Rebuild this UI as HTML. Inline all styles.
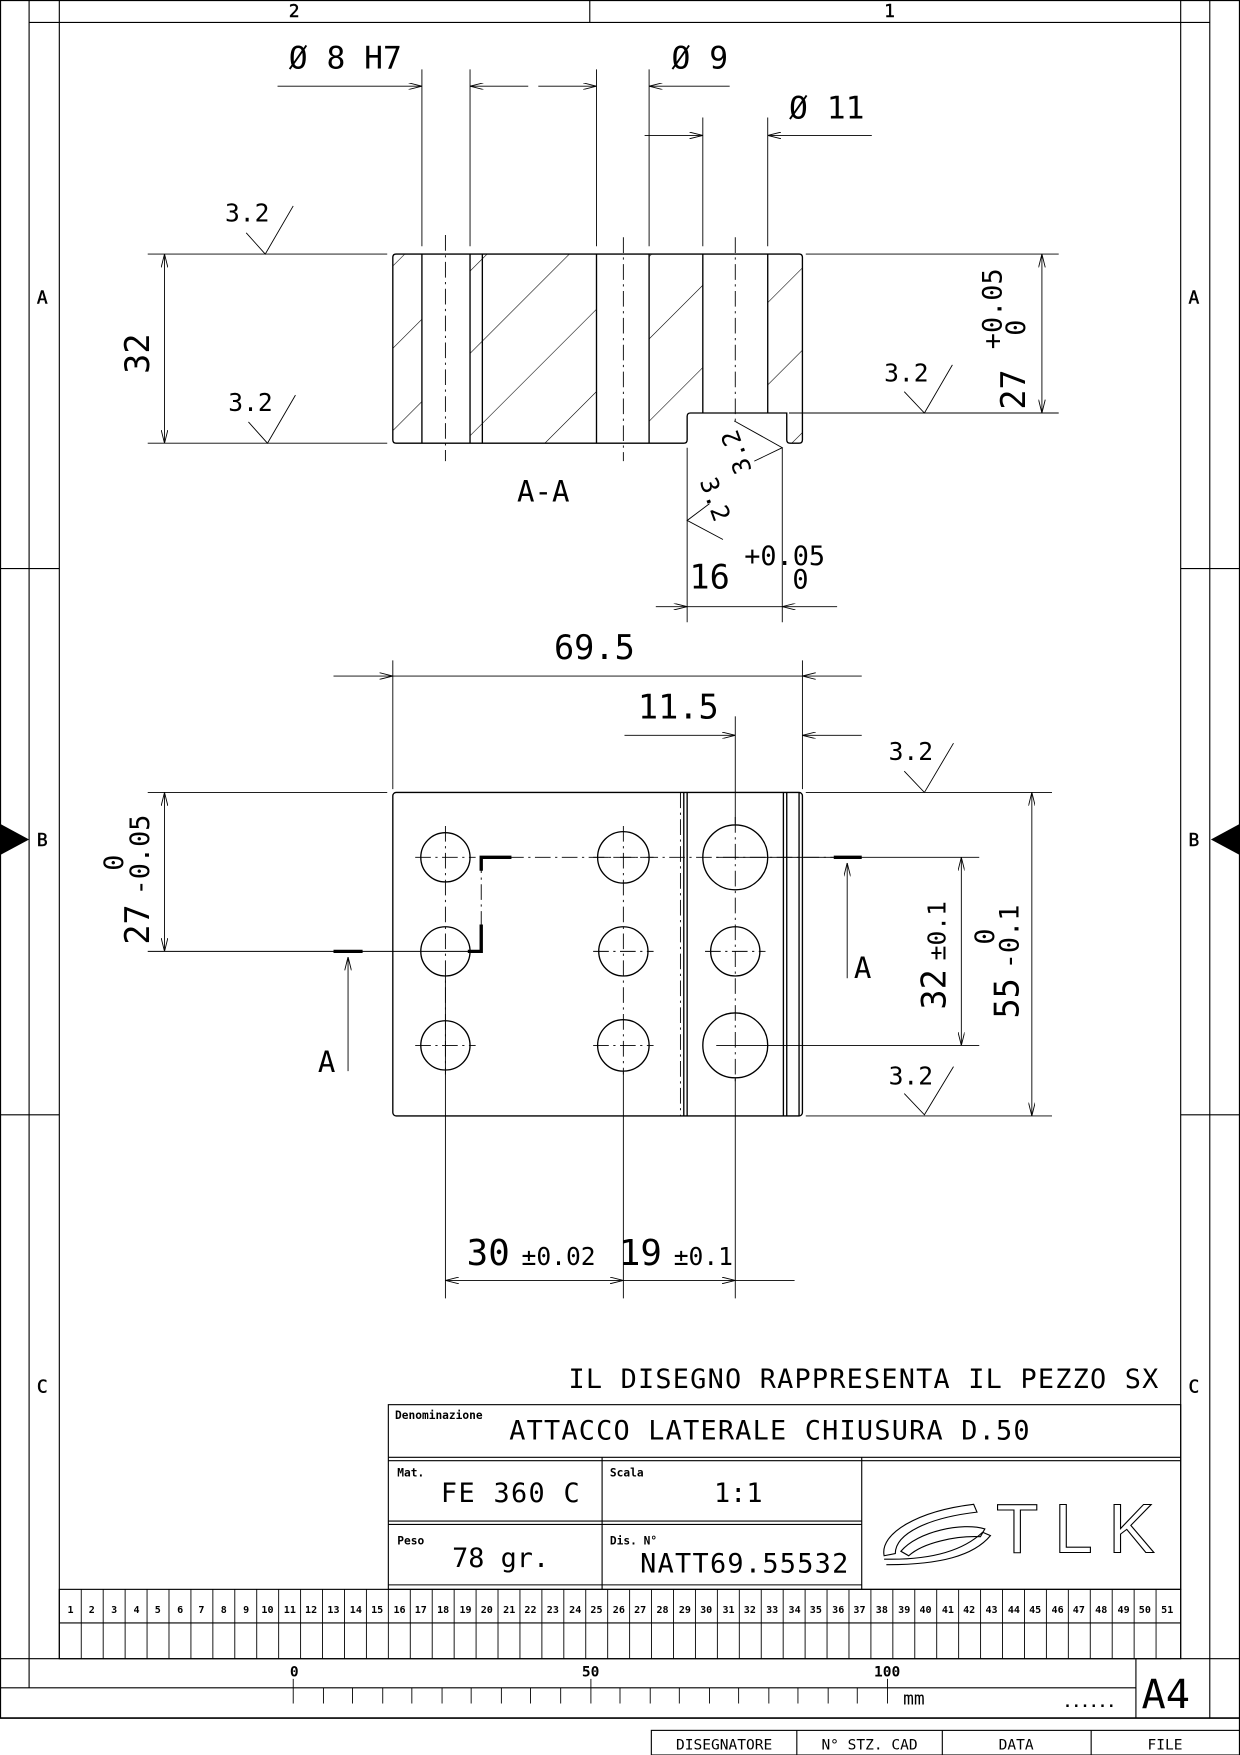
<!DOCTYPE html>
<html><head><meta charset="utf-8"><style>
html,body{margin:0;padding:0;background:#fff}
svg{display:block}
text{font-family:"DejaVu Sans Mono","Liberation Mono",monospace;fill:#000}
</style></head><body>
<svg width="1240" height="1755" viewBox="0 0 1108 1568" preserveAspectRatio="none" xmlns="http://www.w3.org/2000/svg">
<defs>
<pattern id="h" patternUnits="userSpaceOnUse" width="52" height="52" patternTransform="rotate(45)">
<line x1="0" y1="0" x2="0" y2="52" stroke="#000" stroke-width="1"/>
</pattern>
<marker id="ar" viewBox="0 0 12 6" refX="12" refY="3" markerWidth="12" markerHeight="6" orient="auto-start-reverse" markerUnits="userSpaceOnUse">
<path d="M0,0 L12,3 L0,6" fill="none" stroke="#000" stroke-width="0.8"/>
</marker>
</defs>
<g stroke="#000" stroke-width="1" fill="none">
<line x1="0.5" y1="0" x2="0.5" y2="1535"/>
<line x1="26" y1="0" x2="26" y2="1508"/>
<line x1="53" y1="0" x2="53" y2="1482"/>
<line x1="1055" y1="0" x2="1055" y2="1482"/>
<line x1="1081" y1="0" x2="1081" y2="1535"/>
<line x1="1107.5" y1="0" x2="1107.5" y2="1568"/>
<line x1="0" y1="0.5" x2="1108" y2="0.5"/>
<line x1="26" y1="20" x2="1081" y2="20"/>
<line x1="527" y1="0" x2="527" y2="20"/>
<line x1="0" y1="508" x2="53" y2="508"/><line x1="1055" y1="508" x2="1108" y2="508"/>
<line x1="0" y1="996" x2="53" y2="996"/><line x1="1055" y1="996" x2="1108" y2="996"/>
<line x1="0" y1="1482" x2="1108" y2="1482"/>
<line x1="0" y1="1508" x2="1015" y2="1508"/>
<line x1="0" y1="1535" x2="1108" y2="1535" stroke-width="1.5"/>
<line x1="1015" y1="1482" x2="1015" y2="1535"/>
<rect x="582" y="1546" width="526" height="22"/>
<line x1="712" y1="1546" x2="712" y2="1568"/><line x1="842" y1="1546" x2="842" y2="1568"/><line x1="975" y1="1546" x2="975" y2="1568"/>
</g>
<path d="M0,736 L26,750 L0,764 Z" fill="#000"/>
<path d="M1108,736 L1082,750 L1108,764 Z" fill="#000"/>
<g font-size="16" stroke="#000" stroke-width="0.4">
<text x="258" y="15">2</text><text x="790" y="15">1</text>
<text x="33" y="271">A</text><text x="1062" y="271">A</text>
<text x="33" y="756">B</text><text x="1062" y="756">B</text>
<text x="33" y="1244">C</text><text x="1062" y="1244">C</text>
</g>

<rect x="351" y="227" width="366" height="169" fill="url(#h)"/>
<g fill="#fff">
<rect x="377" y="227" width="43" height="169"/>
<rect x="533" y="227" width="47" height="169"/>
<rect x="628" y="227" width="58" height="142"/>
<rect x="614" y="369" width="86" height="30"/>
</g>
<g stroke="#000" stroke-width="1.2" fill="none">
<path d="M354,227 H714 Q717,227 717,230 V393 Q717,396 714,396 H706 Q703,396 703,393 V369 H617 Q614,369 614,372 V393 Q614,396 611,396 H354 Q351,396 351,393 V230 Q351,227 354,227 Z"/>
<line x1="377" y1="227" x2="377" y2="396"/><line x1="420" y1="227" x2="420" y2="396"/><line x1="431" y1="227" x2="431" y2="396"/>
<line x1="533" y1="227" x2="533" y2="396"/><line x1="580" y1="227" x2="580" y2="396"/>
<line x1="628" y1="227" x2="628" y2="369"/><line x1="686" y1="227" x2="686" y2="369"/>
</g>
<g stroke="#000" stroke-width="0.8" stroke-dasharray="14,4,2,4" fill="none">
<line x1="398" y1="210" x2="398" y2="412"/><line x1="557" y1="212" x2="557" y2="412"/><line x1="657" y1="212" x2="657" y2="380"/>
</g>
<g stroke="#000" stroke-width="0.8" fill="none">
<line x1="377" y1="62" x2="377" y2="220"/><line x1="420" y1="62" x2="420" y2="220"/>
<line x1="533" y1="62" x2="533" y2="220"/><line x1="580" y1="62" x2="580" y2="220"/>
<line x1="628" y1="105" x2="628" y2="220"/><line x1="686" y1="105" x2="686" y2="220"/>
<line x1="248" y1="77" x2="377" y2="77" marker-end="url(#ar)"/><line x1="472" y1="77" x2="420" y2="77" marker-end="url(#ar)"/>
<line x1="481" y1="77" x2="533" y2="77" marker-end="url(#ar)"/><line x1="652" y1="77" x2="580" y2="77" marker-end="url(#ar)"/>
<line x1="576" y1="121" x2="628" y2="121" marker-end="url(#ar)"/><line x1="779" y1="121" x2="686" y2="121" marker-end="url(#ar)"/>
<line x1="132" y1="227" x2="346" y2="227"/><line x1="132" y1="396" x2="346" y2="396"/>
<line x1="147" y1="227" x2="147" y2="396" marker-start="url(#ar)" marker-end="url(#ar)"/>
<line x1="720" y1="227" x2="946" y2="227"/><line x1="705" y1="369" x2="946" y2="369"/>
<line x1="931" y1="227" x2="931" y2="369" marker-start="url(#ar)" marker-end="url(#ar)"/>
<line x1="614" y1="400" x2="614" y2="556"/><line x1="699" y1="400" x2="699" y2="556"/>
<line x1="586" y1="542" x2="614" y2="542" marker-end="url(#ar)"/><line x1="748" y1="542" x2="699" y2="542" marker-end="url(#ar)"/>
<line x1="614" y1="542" x2="699" y2="542"/>
<path d="M220,208 L237,227 L262,184"/>
<path d="M222,377 L239,396 L264,353"/>
<path d="M808,350 L826,369 L851,326"/>
<path d="M808,689 L826,708 L852,664"/>
<path d="M808,977 L826,996 L852,953"/>
<path d="M656,376 L699,400 L674,412"/>
<path d="M634,450 L614,465 L646,482"/>
</g>
<g font-size="22">
<text x="201" y="198">3.2</text><text x="204" y="367">3.2</text><text x="790" y="341">3.2</text>
<text x="794" y="679">3.2</text><text x="794" y="969">3.2</text>
<text x="462" y="448" font-size="26">A-A</text>
<text x="616" y="526" font-size="30">16</text>
<text x="665" y="505" font-size="24">+0.05</text><text x="708" y="526" font-size="24">0</text>
<text transform="translate(672,420) rotate(-110)" font-size="22">3.2</text>
<text transform="translate(625,430) rotate(70)" font-size="22">3.2</text>
<text x="258" y="61" font-size="28">Ø 8 H7</text>
<text x="600" y="61" font-size="28">Ø 9</text>
<text x="705" y="106" font-size="28">Ø 11</text>
<text transform="translate(133,334) rotate(-90)" font-size="30">32</text>
<text transform="translate(916,366) rotate(-90)" font-size="30">27</text>
<text transform="translate(895,312) rotate(-90)" font-size="24">+0.05</text>
<text transform="translate(916,300) rotate(-90)" font-size="24">0</text>
</g>

<g stroke="#000" stroke-width="1.2" fill="none">
<rect x="351" y="708" width="366" height="289" rx="3"/>
<line x1="611" y1="708" x2="611" y2="997"/><line x1="614" y1="708" x2="614" y2="997"/>
<line x1="700" y1="708" x2="700" y2="997"/><line x1="703" y1="708" x2="703" y2="997"/>
<line x1="714" y1="708" x2="714" y2="997"/>
<circle cx="398" cy="766" r="22"/><circle cx="398" cy="850" r="22"/><circle cx="398" cy="934" r="22"/>
<circle cx="557" cy="766" r="23"/><circle cx="557" cy="850" r="22"/><circle cx="557" cy="934" r="23"/>
<circle cx="657" cy="766" r="29"/><circle cx="657" cy="850" r="22"/><circle cx="657" cy="934" r="29"/>
</g>
<g stroke="#000" stroke-width="0.8" stroke-dasharray="14,4,2,4" fill="none">
<line x1="371" y1="766" x2="425" y2="766"/><line x1="371" y1="934" x2="425" y2="934"/>
<line x1="530" y1="850" x2="584" y2="850"/><line x1="530" y1="934" x2="584" y2="934"/><line x1="530" y1="766" x2="584" y2="766"/>
<line x1="630" y1="850" x2="684" y2="850"/>
<line x1="398" y1="738" x2="398" y2="960"/><line x1="557" y1="738" x2="557" y2="960"/><line x1="657" y1="730" x2="657" y2="970"/>
<line x1="430" y1="766" x2="745" y2="766"/><line x1="430" y1="766" x2="430" y2="850"/>
<line x1="608" y1="708" x2="608" y2="997"/>
</g>
<g stroke="#000" stroke-width="0.8" fill="none">
<line x1="132" y1="850" x2="430" y2="850"/>
<line x1="640" y1="766" x2="875" y2="766"/><line x1="640" y1="934" x2="875" y2="934"/>
<line x1="311" y1="957" x2="311" y2="855" marker-end="url(#ar)"/>
<line x1="757" y1="874" x2="757" y2="771" marker-end="url(#ar)"/>
<line x1="351" y1="590" x2="351" y2="705"/><line x1="717" y1="590" x2="717" y2="705"/>
<line x1="298" y1="604" x2="351" y2="604" marker-end="url(#ar)"/><line x1="351" y1="604" x2="717" y2="604"/><line x1="770" y1="604" x2="717" y2="604" marker-end="url(#ar)"/>
<line x1="558" y1="657" x2="657" y2="657" marker-end="url(#ar)"/><line x1="770" y1="657" x2="717" y2="657" marker-end="url(#ar)"/>
<line x1="657" y1="640" x2="657" y2="736"/>
<line x1="132" y1="708" x2="346" y2="708"/>
<line x1="147" y1="708" x2="147" y2="850" marker-start="url(#ar)" marker-end="url(#ar)"/>
<line x1="859" y1="766" x2="859" y2="934" marker-start="url(#ar)" marker-end="url(#ar)"/>
<line x1="720" y1="708" x2="940" y2="708"/><line x1="720" y1="997" x2="940" y2="997"/>
<line x1="922" y1="708" x2="922" y2="997" marker-start="url(#ar)" marker-end="url(#ar)"/>
<line x1="398" y1="872" x2="398" y2="1160"/><line x1="557" y1="957" x2="557" y2="1160"/><line x1="657" y1="963" x2="657" y2="1160"/>
<line x1="398" y1="1144" x2="557" y2="1144" marker-start="url(#ar)" marker-end="url(#ar)"/>
<line x1="557" y1="1144" x2="657" y2="1144" marker-end="url(#ar)"/><line x1="657" y1="1144" x2="710" y2="1144"/>
</g>
<g stroke="#000" stroke-width="3" fill="none">
<line x1="298" y1="850" x2="324" y2="850"/><line x1="745" y1="766" x2="770" y2="766"/>
<path d="M430,778 V766 H457"/><path d="M430,826 V850 H418"/>
</g>
<g>
<text x="495" y="589" font-size="30">69.5</text>
<text x="570" y="642" font-size="30">11.5</text>
<text x="284" y="958" font-size="26">A</text><text x="763" y="874" font-size="26">A</text>
<text transform="translate(133,844) rotate(-90)" font-size="30">27</text>
<text transform="translate(133,800) rotate(-90)" font-size="24">-0.05</text>
<text transform="translate(110,778) rotate(-90)" font-size="24">0</text>
<text transform="translate(845,902) rotate(-90)" font-size="30">32</text>
<text transform="translate(845,858) rotate(-90)" font-size="22">±0.1</text>
<text transform="translate(910,910) rotate(-90)" font-size="30">55</text>
<text transform="translate(910,866) rotate(-90)" font-size="24">-0.1</text>
<text transform="translate(888,844) rotate(-90)" font-size="24">0</text>
<text x="417" y="1130" font-size="32">30</text><text x="466" y="1130" font-size="22">±0.02</text>
<text x="553" y="1130" font-size="32">19</text><text x="602" y="1130" font-size="22">±0.1</text>
</g>

<text x="508" y="1240" font-size="24" textLength="527" lengthAdjust="spacing">IL DISEGNO RAPPRESENTA IL PEZZO SX</text>
<g stroke="#000" stroke-width="1" fill="none">
<rect x="347" y="1255" width="708" height="165"/>
<line x1="347" y1="1302" x2="1055" y2="1302"/><line x1="347" y1="1305" x2="1055" y2="1305"/>
<line x1="347" y1="1359" x2="770" y2="1359"/><line x1="347" y1="1362" x2="770" y2="1362"/>
<line x1="347" y1="1416" x2="770" y2="1416"/>
<line x1="538" y1="1302" x2="538" y2="1420"/><line x1="770" y1="1302" x2="770" y2="1420"/>
</g>
<g font-size="10" font-weight="bold">
<text x="353" y="1268">Denominazione</text><text x="355" y="1319">Mat.</text><text x="545" y="1319">Scala</text>
<text x="355" y="1380">Peso</text><text x="545" y="1380">Dis. N°</text>
</g>
<g font-size="24">
<text x="455" y="1286" textLength="465" lengthAdjust="spacing">ATTACCO LATERALE CHIUSURA D.50</text>
<text x="394" y="1342" textLength="124" lengthAdjust="spacing">FE 360 C</text><text x="638" y="1342">1:1</text>
<text x="404" y="1400">78 gr.</text><text x="572" y="1405" textLength="186" lengthAdjust="spacing">NATT69.55532</text>
</g>
<g stroke="#000" stroke-width="1" fill="none">
<path d="M790,1390 C786,1370 820,1350 870,1344 L873,1351 C830,1356 800,1370 800,1388 Z"/>
<path d="M805,1386 C820,1368 860,1360 880,1366 L876,1373 C855,1372 825,1378 812,1390 Z"/>
<path d="M792,1398 C840,1398 870,1390 885,1372 L878,1369 C860,1386 830,1394 790,1393"/>
</g>
<text x="890" y="1387" font-size="62" style="fill:none;stroke:#000;stroke-width:1;font-family:'Liberation Sans',sans-serif;letter-spacing:14px">TLK</text>

<g stroke="#000" stroke-width="1" fill="none">
<rect x="53" y="1420" width="1002" height="62"/>
<line x1="53" y1="1450" x2="1055" y2="1450"/>
</g>
<g stroke="#000" stroke-width="0.8">
<line x1="72.6" y1="1420" x2="72.6" y2="1482"/><line x1="92.2" y1="1420" x2="92.2" y2="1482"/><line x1="111.8" y1="1420" x2="111.8" y2="1482"/><line x1="131.4" y1="1420" x2="131.4" y2="1482"/><line x1="151" y1="1420" x2="151" y2="1482"/><line x1="170.6" y1="1420" x2="170.6" y2="1482"/><line x1="190.2" y1="1420" x2="190.2" y2="1482"/><line x1="209.8" y1="1420" x2="209.8" y2="1482"/><line x1="229.4" y1="1420" x2="229.4" y2="1482"/><line x1="249" y1="1420" x2="249" y2="1482"/><line x1="268.6" y1="1420" x2="268.6" y2="1482"/><line x1="288.2" y1="1420" x2="288.2" y2="1482"/><line x1="307.8" y1="1420" x2="307.8" y2="1482"/><line x1="327.4" y1="1420" x2="327.4" y2="1482"/><line x1="347" y1="1420" x2="347" y2="1482"/><line x1="366.6" y1="1420" x2="366.6" y2="1482"/><line x1="386.2" y1="1420" x2="386.2" y2="1482"/><line x1="405.8" y1="1420" x2="405.8" y2="1482"/><line x1="425.4" y1="1420" x2="425.4" y2="1482"/><line x1="445" y1="1420" x2="445" y2="1482"/><line x1="464.6" y1="1420" x2="464.6" y2="1482"/><line x1="484.2" y1="1420" x2="484.2" y2="1482"/><line x1="503.8" y1="1420" x2="503.8" y2="1482"/><line x1="523.4" y1="1420" x2="523.4" y2="1482"/><line x1="543" y1="1420" x2="543" y2="1482"/><line x1="562.6" y1="1420" x2="562.6" y2="1482"/><line x1="582.2" y1="1420" x2="582.2" y2="1482"/><line x1="601.8" y1="1420" x2="601.8" y2="1482"/><line x1="621.4" y1="1420" x2="621.4" y2="1482"/><line x1="641" y1="1420" x2="641" y2="1482"/><line x1="660.6" y1="1420" x2="660.6" y2="1482"/><line x1="680.2" y1="1420" x2="680.2" y2="1482"/><line x1="699.8" y1="1420" x2="699.8" y2="1482"/><line x1="719.4" y1="1420" x2="719.4" y2="1482"/><line x1="739" y1="1420" x2="739" y2="1482"/><line x1="758.6" y1="1420" x2="758.6" y2="1482"/><line x1="778.2" y1="1420" x2="778.2" y2="1482"/><line x1="797.8" y1="1420" x2="797.8" y2="1482"/><line x1="817.4" y1="1420" x2="817.4" y2="1482"/><line x1="837" y1="1420" x2="837" y2="1482"/><line x1="856.6" y1="1420" x2="856.6" y2="1482"/><line x1="876.2" y1="1420" x2="876.2" y2="1482"/><line x1="895.8" y1="1420" x2="895.8" y2="1482"/><line x1="915.4" y1="1420" x2="915.4" y2="1482"/><line x1="935" y1="1420" x2="935" y2="1482"/><line x1="954.6" y1="1420" x2="954.6" y2="1482"/><line x1="974.2" y1="1420" x2="974.2" y2="1482"/><line x1="993.8" y1="1420" x2="993.8" y2="1482"/><line x1="1013.4" y1="1420" x2="1013.4" y2="1482"/><line x1="1033" y1="1420" x2="1033" y2="1482"/>
</g>
<g font-size="9" font-weight="bold" text-anchor="middle" font-family="Liberation Sans, sans-serif">
<text x="63" y="1441">1</text><text x="82" y="1441">2</text><text x="102" y="1441">3</text><text x="122" y="1441">4</text><text x="141" y="1441">5</text><text x="161" y="1441">6</text><text x="180" y="1441">7</text><text x="200" y="1441">8</text><text x="220" y="1441">9</text><text x="239" y="1441">10</text><text x="259" y="1441">11</text><text x="278" y="1441">12</text><text x="298" y="1441">13</text><text x="318" y="1441">14</text><text x="337" y="1441">15</text><text x="357" y="1441">16</text><text x="376" y="1441">17</text><text x="396" y="1441">18</text><text x="416" y="1441">19</text><text x="435" y="1441">20</text><text x="455" y="1441">21</text><text x="474" y="1441">22</text><text x="494" y="1441">23</text><text x="514" y="1441">24</text><text x="533" y="1441">25</text><text x="553" y="1441">26</text><text x="572" y="1441">27</text><text x="592" y="1441">28</text><text x="612" y="1441">29</text><text x="631" y="1441">30</text><text x="651" y="1441">31</text><text x="670" y="1441">32</text><text x="690" y="1441">33</text><text x="710" y="1441">34</text><text x="729" y="1441">35</text><text x="749" y="1441">36</text><text x="768" y="1441">37</text><text x="788" y="1441">38</text><text x="808" y="1441">39</text><text x="827" y="1441">40</text><text x="847" y="1441">41</text><text x="866" y="1441">42</text><text x="886" y="1441">43</text><text x="906" y="1441">44</text><text x="925" y="1441">45</text><text x="945" y="1441">46</text><text x="964" y="1441">47</text><text x="984" y="1441">48</text><text x="1004" y="1441">49</text><text x="1023" y="1441">50</text><text x="1043" y="1441">51</text>
</g>
<g stroke="#000" stroke-width="0.8">
<line x1="262" y1="1500" x2="262" y2="1522"/><line x1="289" y1="1508" x2="289" y2="1522"/><line x1="315" y1="1508" x2="315" y2="1522"/><line x1="342" y1="1508" x2="342" y2="1522"/><line x1="368" y1="1508" x2="368" y2="1522"/><line x1="395" y1="1508" x2="395" y2="1522"/><line x1="421" y1="1508" x2="421" y2="1522"/><line x1="448" y1="1508" x2="448" y2="1522"/><line x1="474" y1="1508" x2="474" y2="1522"/><line x1="501" y1="1508" x2="501" y2="1522"/><line x1="528" y1="1500" x2="528" y2="1522"/><line x1="554" y1="1508" x2="554" y2="1522"/><line x1="581" y1="1508" x2="581" y2="1522"/><line x1="607" y1="1508" x2="607" y2="1522"/><line x1="634" y1="1508" x2="634" y2="1522"/><line x1="660" y1="1508" x2="660" y2="1522"/><line x1="687" y1="1508" x2="687" y2="1522"/><line x1="713" y1="1508" x2="713" y2="1522"/><line x1="740" y1="1508" x2="740" y2="1522"/><line x1="766" y1="1508" x2="766" y2="1522"/><line x1="793" y1="1500" x2="793" y2="1522"/>
</g>
<g font-size="13" font-family="Liberation Sans, sans-serif" font-weight="bold">
<text x="259" y="1498">0</text><text x="520" y="1498">50</text><text x="781" y="1498">100</text>
<text x="807" y="1523" font-weight="normal" font-size="16">mm</text><text x="950" y="1525">......</text>
</g>
<text x="1020" y="1526" font-size="36">A4</text>
<g font-size="13" text-anchor="middle">
<text x="647" y="1563">DISEGNATORE</text><text x="777" y="1563">N° STZ. CAD</text><text x="908" y="1563">DATA</text><text x="1041" y="1563">FILE</text>
</g>
</svg>
</body></html>
